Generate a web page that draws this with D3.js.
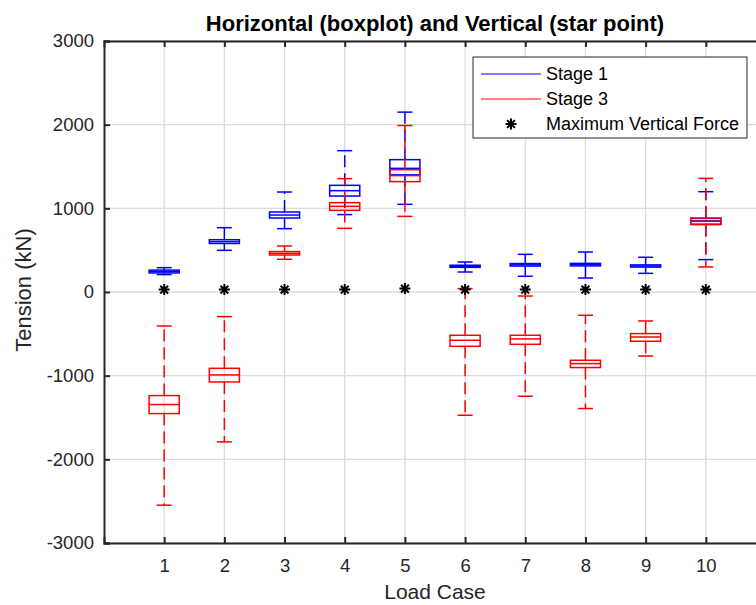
<!DOCTYPE html>
<html>
<head>
<meta charset="utf-8">
<script src="https://cdn.jsdelivr.net/npm/d3@7"></script>
<style>
  html, body { margin: 0; padding: 0; background: #fff; overflow: hidden; }
  text { font-family: Arial, "Liberation Sans", Helvetica, sans-serif; }
</style>
</head>
<body>
<svg id="chart" width="756" height="605"></svg>
<script>
// Load cases on the x axis
const loadCases = [1, 2, 3, 4, 5, 6, 7, 8, 9, 10];

// Stage 1 box statistics (kN): lower whisker, Q1, median, Q3, upper whisker
const stage1Low    = [208, 498, 757, 925, 1048, 239, 188, 167, 223, 387];
const stage1Q1     = [228, 580, 884, 1147, 1400, 295, 310, 312, 298, 810];
const stage1Median = [245, 602, 920, 1211, 1478, 307, 325, 327, 311, 850];
const stage1Q3     = [262, 625, 956, 1275, 1582, 320, 340, 342, 324, 880];
const stage1High   = [291, 769, 1195, 1689, 2150, 358, 450, 478, 415, 1199];

// Stage 3 box statistics (kN)
const stage3Low    = [-2548, -1792, 391, 761, 904, -1473, -1246, -1393, -765, 299];
const stage3Q1     = [-1453, -1075, 442, 976, 1319, -649, -625, -903, -589, 805];
const stage3Median = [-1345, -991, 462, 1024, 1391, -577, -561, -856, -538, 845];
const stage3Q3     = [-1238, -912, 483, 1068, 1462, -517, -517, -816, -497, 884];
const stage3High   = [-406, -294, 550, 1355, 1990, 41, -48, -278, -346, 1358];

// Maximum vertical force per load case (kN)
const maxVertical = [29, 29, 29, 29, 41, 29, 29, 29, 29, 29];

const yTicks = [-3000, -2000, -1000, 0, 1000, 2000, 3000];

const svg = d3.select("#chart");
const margin = { left: 104, right: 766, top: 41, bottom: 543 };

const x = d3.scaleLinear().domain([0, 11]).range([margin.left, margin.right]);
const y = d3.scaleLinear().domain([-3000, 3000]).range([margin.bottom, margin.top]);

const axisColor = "#262626";
const plainNumber = d => String(d);

// grid
const grid = svg.append("g").attr("class", "grid");
grid.selectAll("line.gx").data(loadCases).join("line")
  .attr("x1", d => x(d)).attr("x2", d => x(d))
  .attr("y1", margin.top).attr("y2", margin.bottom)
  .attr("stroke", "#dcdcdc").attr("stroke-width", 1.3);
grid.selectAll("line.gy").data(yTicks).join("line")
  .attr("x1", margin.left).attr("x2", margin.right)
  .attr("y1", d => y(d)).attr("y2", d => y(d))
  .attr("stroke", "#dcdcdc").attr("stroke-width", 1.3);

// axes (ticks pointing inward)
const xAxis = d3.axisBottom(x).tickValues(loadCases).tickSize(-6).tickPadding(16).tickFormat(plainNumber);
const yAxis = d3.axisLeft(y).tickValues(yTicks).tickSize(-6).tickPadding(16).tickFormat(plainNumber);
const xTop = d3.axisTop(x).tickValues(loadCases).tickSize(-6).tickFormat("");

function styleAxis(g, fs) {
  g.select(".domain").attr("stroke", axisColor).attr("stroke-width", 2);
  g.selectAll(".tick line").attr("stroke", axisColor).attr("stroke-width", 2);
  g.selectAll(".tick text").attr("fill", axisColor).attr("font-size", fs);
}

const gx = svg.append("g").attr("transform", `translate(0,${margin.bottom})`).call(xAxis);
styleAxis(gx, 18.5);
const gxt = svg.append("g").attr("transform", `translate(0,${margin.top})`).call(xTop);
styleAxis(gxt, 18.5);
const gy = svg.append("g").attr("transform", `translate(${margin.left},0)`).call(yAxis);
styleAxis(gy, 18.5);
gy.selectAll(".tick text").attr("dx", 6);

// boxplots
function drawBoxes(cls, color, low, q1, med, q3, high) {
  const g = svg.append("g").attr("class", cls);
  const rows = loadCases.map((c, i) => ({ c, lo: low[i], q1: q1[i], md: med[i], q3: q3[i], hi: high[i] }));
  const halfBox = 0.25, halfCap = 0.125;
  const item = g.selectAll("g.item").data(rows).join("g").attr("class", "item");
  // dashed whiskers
  item.append("line")
    .attr("x1", d => x(d.c)).attr("x2", d => x(d.c))
    .attr("y1", d => y(d.q3)).attr("y2", d => y(d.hi))
    .attr("stroke", color).attr("stroke-width", 1.5).attr("stroke-dasharray", "12,6");
  item.append("line")
    .attr("x1", d => x(d.c)).attr("x2", d => x(d.c))
    .attr("y1", d => y(d.q1)).attr("y2", d => y(d.lo))
    .attr("stroke", color).attr("stroke-width", 1.5).attr("stroke-dasharray", "12,6");
  // caps
  item.append("line")
    .attr("x1", d => x(d.c - halfCap)).attr("x2", d => x(d.c + halfCap))
    .attr("y1", d => y(d.hi)).attr("y2", d => y(d.hi))
    .attr("stroke", color).attr("stroke-width", 1.5);
  item.append("line")
    .attr("x1", d => x(d.c - halfCap)).attr("x2", d => x(d.c + halfCap))
    .attr("y1", d => y(d.lo)).attr("y2", d => y(d.lo))
    .attr("stroke", color).attr("stroke-width", 1.5);
  // box
  item.append("rect")
    .attr("x", d => x(d.c - halfBox)).attr("width", d => x(d.c + halfBox) - x(d.c - halfBox))
    .attr("y", d => y(d.q3)).attr("height", d => y(d.q1) - y(d.q3))
    .attr("fill", "none").attr("stroke", color).attr("stroke-width", 1.5);
  // median
  item.append("line")
    .attr("x1", d => x(d.c - halfBox)).attr("x2", d => x(d.c + halfBox))
    .attr("y1", d => y(d.md)).attr("y2", d => y(d.md))
    .attr("stroke", color).attr("stroke-width", 1.5);
}

drawBoxes("stage1", "#0000ff", stage1Low, stage1Q1, stage1Median, stage1Q3, stage1High);
drawBoxes("stage3", "#ff0000", stage3Low, stage3Q1, stage3Median, stage3Q3, stage3High);

// asterisk marker
function starPath(r) {
  const d = r * Math.SQRT1_2;
  return `M${-r},0L${r},0M0,${-r}L0,${r}M${-d},${-d}L${d},${d}M${-d},${d}L${d},${-d}`;
}
svg.append("g").selectAll("path").data(loadCases.map((c, i) => ({ c, v: maxVertical[i] }))).join("path")
  .attr("transform", d => `translate(${x(d.c)},${y(d.v)})`)
  .attr("d", starPath(5.5))
  .attr("stroke", "#000").attr("stroke-width", 2).attr("fill", "none");

// title and axis labels
svg.append("text").attr("x", (margin.left + margin.right) / 2).attr("y", 31)
  .attr("text-anchor", "middle").attr("font-size", 22).attr("font-weight", "bold").attr("fill", "#000")
  .text("Horizontal (boxplot) and Vertical (star point)");
svg.append("text").attr("x", (margin.left + margin.right) / 2).attr("y", 599)
  .attr("text-anchor", "middle").attr("font-size", 21).attr("fill", axisColor)
  .text("Load Case");
svg.append("text").attr("transform", "translate(31,290) rotate(-90)")
  .attr("text-anchor", "middle").attr("font-size", 22).attr("fill", axisColor)
  .text("Tension (kN)");

// legend
const lg = svg.append("g").attr("transform", "translate(473,57)");
lg.append("rect").attr("width", 274).attr("height", 81)
  .attr("fill", "#fff").attr("stroke", axisColor).attr("stroke-width", 1);
const legendItems = [
  { label: "Stage 1", color: "#0000ff", kind: "line" },
  { label: "Stage 3", color: "#ff0000", kind: "line" },
  { label: "Maximum Vertical Force", color: "#000", kind: "star" }
];
const li = lg.selectAll("g.li").data(legendItems).join("g")
  .attr("transform", (d, i) => `translate(0,${17 + i * 25})`);
li.filter(d => d.kind === "line").append("line")
  .attr("x1", 8).attr("x2", 68).attr("y1", 0).attr("y2", 0)
  .attr("stroke", d => d.color).attr("stroke-width", 1.2);
li.filter(d => d.kind === "star").append("path")
  .attr("transform", "translate(38,0)").attr("d", starPath(5.5))
  .attr("stroke", "#000").attr("stroke-width", 2).attr("fill", "none");
li.append("text").attr("x", 73).attr("y", 0).attr("dy", "0.35em")
  .attr("font-size", 18).attr("fill", "#000").text(d => d.label);
</script>
</body>
</html>
